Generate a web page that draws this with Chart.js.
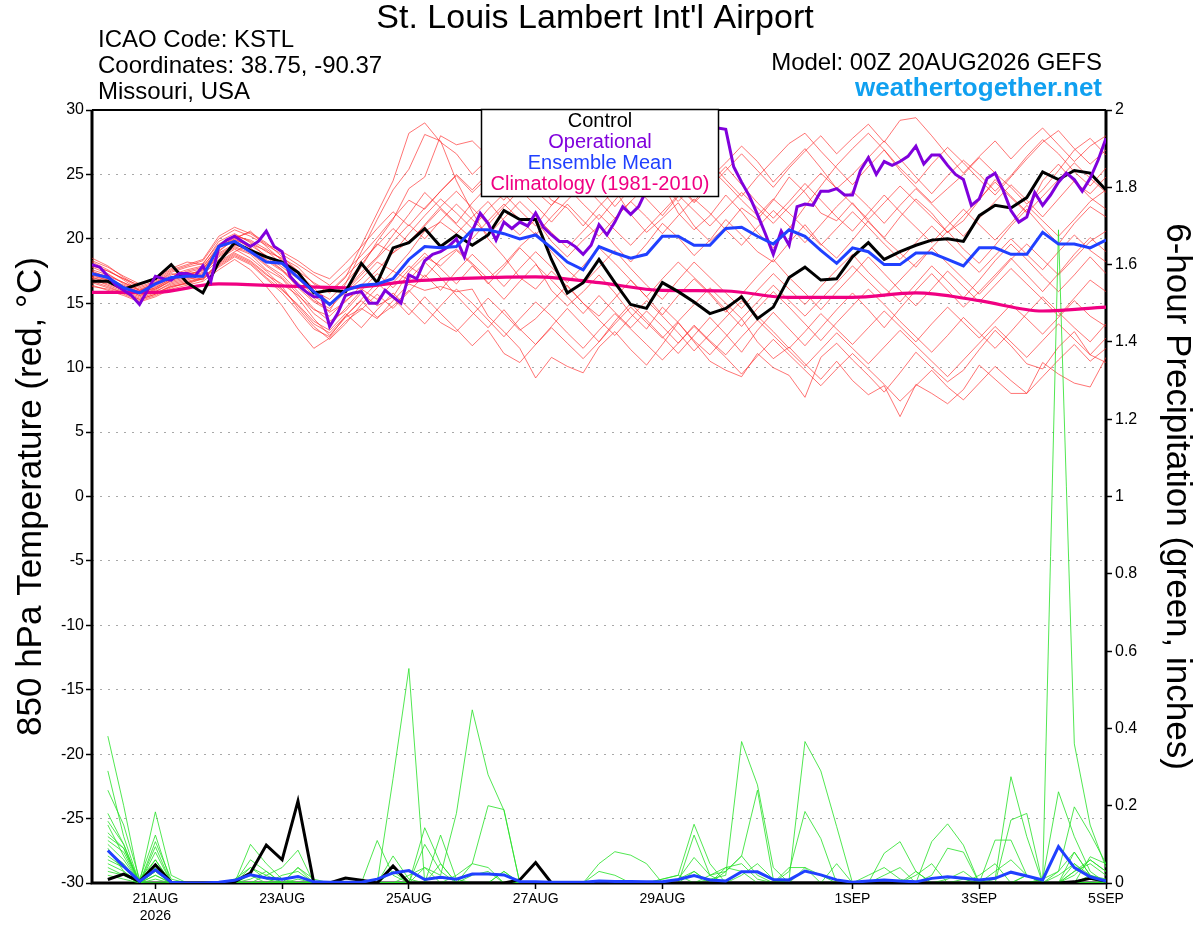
<!DOCTYPE html>
<html>
<head>
<meta charset="utf-8">
<script src="https://cdn.jsdelivr.net/npm/chart.js@4.4.1/dist/chart.umd.min.js"></script>
<style>
  html, body { margin: 0; padding: 0; background: #fff; }
  canvas { display: block; }
</style>
</head>
<body>
<canvas id="plume" width="1200" height="927"></canvas>
<script>
const FONT = '"Liberation Sans", Arial, Helvetica, sans-serif';

// x axis: hours after 00Z 20AUG2026
const tickHours = [24, 72, 120, 168, 216, 288, 336, 384];
const tickLabels = [['21AUG', '2026'], '23AUG', '25AUG', '27AUG', '29AUG', '1SEP', '3SEP', '5SEP'];

// 850 hPa temperature, 6-hourly from hour 0
const controlTemp = [
  16.7, 16.7, 16.1, 16.5, 16.9, 18.0, 16.6, 15.8, 18.2, 19.7, 19.1, 18.6, 18.2, 17.4, 15.8, 16.0,
  15.9, 18.1, 16.6, 19.3, 19.7, 20.8, 19.4, 20.3, 19.5, 20.3, 22.2, 21.5, 21.5, 18.4, 15.8, 16.6,
  18.4, 16.6, 14.9, 14.6, 16.6, 15.9, 15.1, 14.2, 14.6, 15.5, 13.8, 14.7, 17.0, 17.8, 16.8, 16.9,
  18.6, 19.7, 18.4, 19.0, 19.5, 19.9, 20.0, 19.8, 21.8, 22.6, 22.4, 23.2, 25.2, 24.6, 25.3, 25.1,
  23.8
];
const meanTemp = [
  17.3, 17.0, 16.2, 15.8, 16.5, 17.0, 17.1, 17.1, 19.4, 19.8, 19.0, 18.2, 18.1, 17.0, 15.9, 14.9,
  16.0, 16.4, 16.5, 16.9, 18.4, 19.4, 19.3, 19.4, 20.7, 20.7, 20.4, 20.0, 20.3, 19.3, 18.2, 17.6,
  19.4, 18.9, 18.5, 18.8, 20.2, 20.2, 19.5, 19.5, 20.8, 20.9, 20.2, 19.6, 20.7, 20.2, 19.1, 18.1,
  19.3, 19.0, 18.0, 18.0, 18.9, 18.9, 18.4, 17.9, 19.3, 19.3, 18.8, 18.8, 20.5, 19.6, 19.6, 19.3,
  19.9
];
// operational run, 3-hourly from hour 0
const operTemp = [
  18.0, 17.8, 17.1, 16.4, 16.0, 15.6, 14.9, 16.0, 17.1, 16.9, 16.8, 17.3, 17.3, 17.1, 17.9, 16.7,
  19.4, 19.9, 20.2, 19.8, 19.4, 19.8, 20.6, 19.4, 19.0, 17.1, 16.4, 15.9, 15.5, 15.5, 13.2, 14.2,
  15.6, 15.8, 15.9, 15.0, 15.0, 16.0, 15.5, 15.0, 17.2, 16.9, 18.3, 18.8, 19.0, 19.4, 20.0, 18.6,
  20.6, 22.0, 21.2, 19.9, 21.3, 20.8, 21.3, 21.0, 22.0, 20.9, 20.3, 19.8, 19.8, 19.4, 18.8, 19.5,
  21.1, 20.3, 21.3, 22.5, 21.9, 22.5, 23.8, 24.6, 25.3, 25.9, 26.6, 27.2, 27.6, 28.0, 28.4, 28.6,
  28.5, 25.6, 24.4, 23.3, 21.9, 20.4, 18.8, 20.6, 19.5, 22.5, 22.7, 22.6, 23.7, 23.7, 23.9, 23.4,
  23.4, 25.3, 26.3, 25.0, 26.0, 25.7, 26.0, 26.4, 27.2, 25.8, 26.5, 26.5, 25.7, 25.0, 24.6, 22.6,
  23.1, 24.7, 25.1, 23.8, 22.2, 21.3, 21.7, 23.6, 22.6, 23.4, 24.4, 25.1, 24.6, 23.7, 24.7, 26.1,
  27.8
];
// climatology (1981-2010), daily from hour 0
const climTemp = [15.85, 15.85, 16.5, 16.35, 16.2, 16.7, 16.95, 17.05, 16.6, 16.0, 15.95, 15.45, 15.45, 15.8, 15.2, 14.4, 14.7];

// ensemble members, 6-hourly from hour 0
const memberTemps = [
  [18.2,17.6,16.8,16.0,16.4,17.0,17.5,17.8, 19.5,20.3,19.8,19.0,18.5,17.8,16.5,15.8, 17.0,19.5,22.0,24.5,28.2,29.0,27.5,26.6,
   25.0,26.2,27.8,26.0,24.5,23.0,22.4,21.0, 22.5,23.8,21.9,20.5,21.6,22.8,21.0,19.8, 20.9,22.4,21.5,23.0,24.8,23.6,22.0,21.4,
   22.8,21.3,20.1,21.7,23.1,22.0,20.5,21.4, 23.0,24.6,23.3,22.1,24.5,25.8,24.4,23.5, 24.8],
  [17.5,17.0,16.3,15.7,16.0,16.8,17.1,17.6, 19.0,20.0,20.6,19.4,18.3,17.0,15.5,14.9, 16.0,17.8,19.8,21.5,23.9,24.8,28.0,27.3,
   27.6,26.4,25.0,23.5,24.9,26.5,27.6,25.9, 24.0,22.5,23.9,25.8,24.3,22.0,20.7,21.8, 23.4,22.1,20.5,19.3,20.8,22.5,24.1,25.7,
   27.0,28.2,26.9,25.3,24.0,22.8,23.9,25.0, 26.3,25.1,24.0,22.7,23.8,25.3,26.9,27.8, 26.5],
  [16.8,16.5,16.0,15.5,15.9,16.6,16.9,17.3, 18.6,19.3,18.8,17.6,16.9,15.4,13.8,12.5, 13.9,14.6,13.8,15.2,16.5,16.0,16.3,15.9,
   16.1,14.0,12.8,11.5,9.2,10.8,10.1,9.6, 11.6,12.8,11.4,10.2,11.8,13.5,12.0,10.5, 9.8,9.3,11.1,10.0,9.4,7.7,10.8,11.9,
   10.6,9.4,8.1,9.6,11.2,10.0,8.9,9.8, 11.4,12.9,11.7,10.3,9.9,11.6,12.8,11.0, 10.4],
  [17.2,16.8,16.2,15.8,16.2,16.9,17.4,17.1, 18.9,19.6,19.0,18.0,17.2,15.9,14.6,13.6, 14.4,15.8,14.8,15.5,17.4,18.6,17.9,19.1,
   18.0,16.5,17.8,19.3,18.1,16.0,14.8,15.9, 17.2,15.8,14.2,13.0,14.7,13.5,12.1,11.0, 12.4,13.8,12.0,10.7,11.6,10.3,9.1,10.5,
   9.0,7.9,8.6,6.2,8.7,8.0,7.2,8.3, 10.2,9.1,8.0,8.0,10.4,9.5,8.8,8.5, 10.8],
  [17.8,17.3,16.5,16.0,16.6,17.3,17.0,16.8, 18.2,19.0,19.6,19.1,18.0,17.3,16.2,15.0, 15.8,16.9,18.2,17.5,18.9,20.6,21.3,20.4,
   21.7,22.9,21.4,20.3,21.5,19.8,18.6,19.9, 21.0,19.5,18.2,19.6,21.2,20.1,18.7,19.9, 21.5,20.3,19.0,18.2,19.7,21.1,19.6,18.5,
   19.9,21.4,20.0,18.9,17.8,19.3,20.6,19.2, 18.1,19.5,21.0,22.3,20.9,19.6,21.2,22.5, 21.7],
  [18.5,17.9,17.0,16.3,16.7,17.5,17.9,18.3, 20.0,20.7,20.2,19.5,18.8,18.0,17.2,16.4, 17.5,18.7,20.1,21.6,23.0,22.3,23.7,24.9,
   23.6,24.8,26.1,25.0,23.7,22.6,23.9,25.2, 26.5,25.3,24.0,25.4,26.8,27.5,26.1,24.7, 25.9,27.2,26.0,24.4,25.7,27.0,25.5,23.9,
   25.0,26.3,27.6,26.2,24.8,23.5,24.9,26.1, 25.0,23.7,24.9,26.4,27.7,26.6,25.2,24.1, 25.5],
  [16.6,16.2,15.8,15.3,15.7,16.4,16.7,17.0, 18.0,18.8,18.2,17.2,16.5,15.6,14.5,14.0, 15.2,16.1,15.3,16.6,17.9,17.0,18.4,19.2,
   18.1,16.9,18.0,19.4,20.5,19.0,17.6,16.5, 17.8,19.1,17.7,16.4,15.3,16.8,18.2,17.0, 15.8,14.6,16.0,17.3,16.1,14.9,16.3,17.6,
   18.8,17.4,16.2,15.1,16.5,17.9,16.7,15.4, 16.8,18.3,19.6,18.4,17.1,15.9,17.2,18.6, 17.3],
  [17.0,16.7,16.1,15.6,15.9,16.5,16.8,17.2, 18.4,19.2,18.5,17.5,16.3,14.6,13.2,12.2, 13.4,14.9,16.2,17.5,16.8,18.2,17.0,15.6,
   14.3,13.1,14.5,13.0,11.8,13.2,14.6,13.3, 12.0,13.6,15.0,13.7,12.4,11.1,12.5,13.9, 12.6,11.2,12.9,14.3,13.0,11.7,13.1,14.5,
   15.8,14.5,13.1,14.6,16.0,17.3,16.0,14.7, 15.9,17.2,18.5,17.2,15.9,17.3,18.8,20.1, 19.0],
  [17.4,17.1,16.6,16.1,16.5,17.2,17.6,17.9, 19.3,20.1,20.5,19.7,18.6,17.5,16.0,15.3, 16.6,18.0,19.6,18.9,20.4,21.8,23.1,22.0,
   20.8,22.3,23.5,22.2,21.0,22.6,24.0,22.7, 21.5,23.0,24.4,23.1,21.8,23.3,24.7,26.0, 24.6,23.3,24.8,26.1,27.4,28.2,26.8,25.5,
   24.2,25.6,26.9,25.5,24.3,25.8,27.1,25.9, 24.6,23.4,24.8,26.2,27.5,28.4,27.0,25.8, 26.9],
  [18.0,17.5,16.9,16.4,16.9,17.7,18.2,18.0, 19.8,20.4,19.7,18.6,17.6,16.2,15.1,14.4, 16.5,19.0,21.5,23.8,25.4,28.1,27.6,24.5,
   22.1,20.0,18.6,17.0,16.1,17.5,16.3,15.0, 14.0,15.4,16.8,15.5,14.1,15.6,16.9,15.7, 14.3,15.7,17.1,18.4,17.0,15.8,14.5,15.9,
   17.2,18.6,17.3,16.0,14.8,16.1,17.5,16.3, 15.1,16.4,17.7,16.5,15.3,14.0,15.4,16.8, 15.9],
  [16.9,16.4,15.9,15.4,15.8,16.3,16.5,16.9, 17.8,18.6,18.0,16.9,15.8,14.4,13.0,12.4, 14.0,15.2,13.9,14.8,16.0,14.7,13.5,12.8,
   14.1,15.4,14.2,12.9,13.8,15.1,16.4,15.0, 13.7,12.5,13.9,15.2,14.0,12.7,11.3,12.6, 13.9,15.2,14.0,12.8,11.5,12.8,14.2,13.0,
   11.8,13.1,14.4,13.2,12.0,13.4,14.7,13.5, 12.3,13.6,14.9,13.8,12.6,13.9,15.2,14.0, 13.2],
  [17.6,17.2,16.6,16.0,16.3,17.0,17.4,17.7, 19.1,19.9,19.5,18.7,17.8,16.9,15.8,14.8, 16.0,17.4,18.6,20.3,21.9,23.6,22.4,21.2,
   22.8,24.1,23.0,24.6,25.9,24.5,26.1,27.4, 26.2,27.6,28.5,27.3,25.6,24.2,22.9,24.3, 25.6,24.2,22.8,21.6,22.9,24.3,23.0,21.7,
   20.6,22.0,23.4,22.1,20.9,19.7,21.0,22.3, 21.1,19.9,21.2,22.6,21.4,20.2,21.5,22.9, 23.8],
  [16.4,16.0,15.6,15.1,15.5,16.1,16.4,16.7, 17.6,18.4,17.6,16.3,14.8,13.0,11.5,12.3, 13.6,14.5,15.7,14.6,15.9,17.2,16.0,17.5,
   18.8,17.6,16.3,17.7,19.0,17.8,16.6,17.9, 19.3,18.1,16.8,15.5,16.9,18.2,17.0,15.8, 14.5,13.2,14.6,15.9,14.7,13.4,12.1,13.5,
   14.8,16.1,14.9,13.6,12.4,11.2,12.5,13.9, 12.7,11.5,12.8,14.2,15.5,14.3,13.1,12.0, 13.4],
  [17.1,16.8,16.3,15.9,16.2,16.9,17.3,17.5, 18.8,19.5,19.2,18.4,17.6,16.6,15.4,14.3, 15.1,16.4,17.6,18.9,19.8,21.0,22.3,21.1,
   20.0,21.4,22.7,21.5,20.3,21.7,23.0,24.2, 22.9,21.6,22.9,24.1,25.4,24.1,22.8,24.0, 25.3,26.6,25.3,24.0,25.5,26.8,28.0,26.6,
   27.8,28.9,27.5,29.2,29.4,28.0,26.5,25.1, 26.4,27.6,26.2,27.5,28.6,27.3,26.0,27.2, 28.0],
  [16.3,16.1,15.7,15.2,15.6,16.2,16.6,16.9, 17.9,18.7,18.1,17.0,16.0,14.9,13.6,12.9, 14.2,13.1,14.5,15.8,14.6,13.4,14.8,16.1,
   15.0,13.7,12.4,13.8,15.1,14.0,12.7,11.5, 12.9,14.2,13.0,11.8,10.6,11.9,13.2,12.0, 10.8,9.5,10.9,12.2,11.0,9.8,8.6,9.9,
   11.1,9.9,8.7,7.4,8.6,9.8,8.5,7.5, 8.8,10.1,9.0,8.0,9.3,10.6,11.8,10.5, 11.5],
  [17.9,17.5,16.9,16.2,16.6,17.4,17.8,18.1, 19.6,20.2,19.9,19.2,18.4,17.5,16.6,15.9, 17.1,18.3,19.5,20.8,19.7,21.1,22.5,23.7,
   22.4,21.1,22.5,23.8,22.6,21.3,22.7,21.4, 20.2,21.6,22.9,21.7,20.4,21.8,23.1,22.0, 20.7,19.5,20.9,22.2,21.0,19.7,21.1,22.5,
   23.7,22.5,21.2,22.6,23.9,22.7,21.4,20.2, 21.6,22.9,24.2,23.0,21.7,23.1,24.5,23.2, 22.3],
  [16.7,16.3,15.8,15.3,15.7,16.3,16.6,17.0, 18.1,18.9,18.3,17.3,16.1,14.8,13.4,12.7, 14.0,15.3,16.6,15.4,14.1,15.5,14.2,13.0,
   11.7,12.9,11.1,10.4,11.8,13.1,11.9,10.7, 12.0,13.4,14.7,13.5,12.3,13.6,14.9,16.2, 15.0,13.8,15.1,16.4,15.2,14.0,15.3,16.6,
   17.9,16.7,15.5,16.8,18.1,19.3,18.1,16.9, 15.7,17.0,18.4,19.6,18.4,17.2,18.5,19.8, 20.6],
  [18.3,17.8,17.1,16.5,16.8,17.6,18.0,18.4, 20.2,20.9,20.4,19.6,19.0,18.3,17.4,16.9, 18.1,19.4,20.8,22.1,21.0,22.4,23.7,25.0,
   23.8,25.1,26.3,25.0,26.4,27.7,26.5,25.2, 24.0,25.3,26.6,25.4,24.1,22.9,24.2,25.5, 24.3,23.0,21.8,23.1,22.0,20.8,19.5,20.8,
   22.1,20.9,19.6,18.4,19.7,21.0,19.8,18.6, 17.4,18.7,20.0,18.8,17.6,19.0,20.3,19.1, 18.2],
  [17.3,16.9,16.4,15.9,16.1,16.7,17.0,17.4, 18.7,19.4,18.9,17.9,17.0,15.7,14.2,13.3, 14.6,16.0,17.3,16.2,17.6,18.9,17.7,16.5,
   17.9,16.6,15.3,16.7,18.0,16.8,15.5,14.2, 15.6,14.3,13.1,14.4,13.2,11.9,13.3,12.1, 11.0,12.4,13.7,12.5,11.3,10.1,11.4,12.7,
   11.5,10.3,11.6,12.9,11.7,10.5,9.3,10.6, 11.9,13.2,12.0,10.8,12.1,13.4,12.2,11.0, 12.3],
  [17.0,16.6,16.2,15.6,16.1,16.8,17.2,17.6, 19.4,20.0,19.3,18.3,17.5,16.4,15.2,14.6, 15.9,17.2,18.5,19.8,21.1,20.0,21.4,22.7,
   21.5,20.3,21.6,22.9,21.7,20.5,19.3,20.6, 21.9,20.7,19.5,20.8,22.1,23.4,22.2,21.0, 22.3,23.6,22.4,21.2,22.5,23.8,25.1,23.9,
   22.7,21.5,22.8,24.1,22.9,21.7,20.5,21.8, 23.1,24.4,23.2,22.0,23.3,24.6,25.9,24.7, 23.6]
];

// 6-hour precipitation (inches), 6-hourly from hour 6
const controlPrecip = [
  0.009, 0.023, 0.004, 0.047, 0.002, 0, 0, 0, 0.003, 0.026, 0.098, 0.06, 0.212, 0, 0, 0.013,
  0.007, 0, 0.044, 0, 0, 0, 0, 0, 0, 0, 0.008, 0.053, 0, 0, 0, 0,
  0, 0, 0, 0, 0, 0, 0, 0, 0, 0, 0, 0, 0, 0, 0, 0,
  0, 0, 0, 0, 0, 0, 0, 0, 0, 0, 0, 0, 0, 0.003, 0.012, 0.005
];
const meanPrecip = [
  0.084, 0.043, 0.004, 0.034, 0.002, 0, 0, 0.002, 0.007, 0.021, 0.013, 0.01, 0.017, 0.003, 0.002, 0.002,
  0.002, 0.01, 0.026, 0.032, 0.009, 0.015, 0.01, 0.023, 0.023, 0.021, 0.004, 0.003, 0.002, 0.002, 0.002, 0.005,
  0.004, 0.004, 0.003, 0.003, 0.009, 0.019, 0.008, 0.005, 0.029, 0.029, 0.009, 0.008, 0.031, 0.021, 0.008, 0.002,
  0.005, 0.008, 0.005, 0.003, 0.012, 0.016, 0.012, 0.008, 0.012, 0.028, 0.018, 0.008, 0.094, 0.04, 0.016, 0.005
];
const memberPrecips = [
  [0.38,0.20,0,0.05,0,0,0,0, 0,0.02,0,0,0.01,0,0,0, 0,0,0.27,0.555,0,0,0,0, 0,0,0,0,0,0,0,0,
   0,0,0,0,0,0,0.01,0.02, 0.366,0.254,0.04,0,0,0,0,0, 0,0,0,0,0,0.01,0.03,0, 0,0,0,0,0.02,0.05,0.01,0],
  [0.29,0.12,0,0.184,0.02,0,0,0, 0,0,0,0,0,0,0,0, 0,0,0,0,0.04,0.02,0.18,0.448, 0.28,0.188,0,0,0,0,0,0,
   0,0,0,0,0.01,0.03,0,0, 0,0,0,0,0,0,0,0, 0,0,0,0.02,0.05,0,0,0, 0.03,0.06,0.02,0,0,0.02,0.06,0.03],
  [0.24,0.15,0.01,0.124,0,0,0,0, 0,0.01,0.03,0,0,0,0,0, 0,0,0,0,0,0,0,0, 0,0,0,0,0,0,0,0,
   0,0,0,0,0,0,0,0, 0,0,0,0.01,0.366,0.29,0.146,0, 0,0,0,0,0,0,0,0, 0.01,0.275,0.12,0,0,0,0.02,0.01],
  [0.18,0.10,0,0.107,0.01,0,0,0, 0,0,0,0,0,0,0,0, 0,0,0,0,0,0,0,0, 0,0,0,0,0,0,0,0,
   0,0,0,0,0,0,0,0, 0,0,0,0,0,0,0,0, 0,0,0,0,0,0,0.01,0, 0,0,0.02,0,1.69,0.36,0.15,0.04],
  [0.15,0.07,0,0.05,0,0,0,0, 0,0.10,0.05,0.01,0,0,0,0, 0,0,0,0,0,0,0.02,0.05, 0.20,0.19,0,0,0,0,0,0,
   0,0,0,0,0,0,0.02,0.03, 0.07,0.24,0.01,0,0,0,0,0, 0,0,0,0,0,0,0,0, 0,0,0,0,0,0,0,0],
  [0.12,0.09,0,0.03,0,0,0,0, 0,0,0.02,0.04,0.085,0,0,0, 0,0,0.03,0,0.143,0.05,0,0, 0,0,0,0,0,0,0,0,
   0,0,0,0.01,0.02,0.152,0.05,0, 0,0,0,0,0,0,0,0, 0,0,0,0,0.107,0.153,0.098,0, 0,0,0,0,0,0,0,0],
  [0.10,0.06,0,0.02,0,0,0,0, 0,0,0,0,0,0,0,0, 0,0.11,0.02,0,0,0.124,0.01,0, 0,0,0,0,0,0,0,0.05,
   0.081,0.072,0.05,0,0,0,0,0, 0,0,0,0,0,0,0,0, 0,0.02,0.04,0,0,0,0,0, 0,0,0,0,0,0,0,0],
  [0.08,0.05,0,0.094,0,0,0,0, 0,0.06,0.03,0,0,0,0,0, 0,0,0.07,0.01,0,0,0,0, 0,0.03,0,0,0,0,0,0,
   0,0,0,0,0,0,0,0, 0,0,0,0.03,0.185,0.115,0,0, 0,0,0,0,0,0,0,0, 0,0,0,0.01,0.236,0.12,0.03,0],
  [0.06,0.04,0,0,0,0,0,0, 0,0,0,0,0.04,0,0,0, 0,0,0,0,0,0,0,0, 0,0,0,0,0,0,0,0,
   0,0,0,0,0,0.124,0.02,0, 0,0,0,0,0,0,0,0, 0,0.077,0.107,0.03,0,0,0,0, 0,0.163,0.18,0,0,0,0,0],
  [0.05,0.03,0,0.02,0,0,0,0, 0,0,0,0,0,0,0,0, 0,0,0,0,0,0,0,0, 0,0,0,0,0,0,0,0,
   0,0,0,0,0.01,0.066,0.02,0.04, 0.03,0,0,0,0,0,0,0, 0,0,0,0,0,0,0,0, 0.111,0.111,0.02,0,0.03,0.197,0.128,0.05],
  [0.04,0.02,0,0,0,0,0,0, 0,0.04,0.02,0,0,0,0,0, 0,0,0,0,0.10,0.03,0,0, 0,0,0,0,0,0,0,0,
   0,0,0,0,0,0,0,0, 0,0,0,0,0.04,0.02,0,0, 0,0,0,0,0.02,0.09,0.08,0, 0,0,0,0,0,0,0.068,0.05],
  [0.03,0.02,0,0.01,0,0,0,0, 0,0,0,0,0.04,0.01,0,0, 0,0,0,0,0,0,0,0.02, 0.03,0,0,0,0,0,0,0,
   0,0,0,0,0,0,0,0.03, 0.07,0.02,0,0,0,0,0,0, 0,0,0,0,0,0,0,0, 0,0,0,0,0,0.03,0.06,0.03],
  [0.02,0.01,0,0.03,0,0,0,0, 0,0,0,0,0,0,0,0, 0,0,0,0,0,0.05,0,0, 0,0.03,0,0,0,0,0,0,
   0,0,0,0,0.01,0.02,0.01,0, 0,0,0,0,0,0,0,0, 0.02,0.04,0.01,0,0,0,0,0, 0,0,0.02,0,0,0.05,0.02,0],
  [0.07,0.04,0.01,0.06,0,0,0,0, 0.01,0.04,0.01,0,0,0,0,0, 0,0,0,0,0,0,0,0, 0,0,0,0,0,0,0,0,
   0,0,0,0,0,0,0,0.04, 0.05,0.01,0,0.04,0.04,0,0,0, 0,0,0,0,0,0,0,0, 0,0,0,0,0,0.08,0.02,0],
  [0.11,0.08,0,0.04,0,0,0,0, 0,0,0,0,0,0,0,0, 0,0,0,0,0,0,0,0.05, 0.04,0,0,0,0,0,0,0,
   0,0,0,0,0,0,0,0, 0,0,0,0,0,0,0,0, 0,0,0,0,0,0,0,0.02, 0.05,0,0,0.01,0.03,0.08,0.02,0],
  [0.09,0.03,0,0,0,0,0,0, 0,0,0,0,0,0,0,0, 0,0,0,0,0,0,0,0, 0,0,0,0,0,0,0,0,
   0,0,0,0.01,0.02,0,0,0, 0,0,0,0,0,0,0.05,0, 0,0,0,0.03,0,0,0,0, 0,0,0,0,0,0,0,0],
  [0.13,0.09,0,0.06,0,0,0,0, 0,0,0,0.02,0.03,0,0,0, 0,0,0,0,0,0,0,0, 0,0,0,0,0,0,0,0.03,
   0.02,0,0,0,0,0.03,0,0, 0,0,0,0,0,0,0,0, 0,0,0,0,0,0,0,0, 0,0,0,0,0,0,0,0],
  [0.16,0.10,0,0.08,0,0,0,0, 0,0,0,0,0,0,0,0, 0,0,0,0.02,0.04,0,0,0, 0,0,0,0,0,0,0,0,
   0,0,0,0,0,0,0,0, 0.02,0.05,0.01,0,0,0,0,0, 0,0,0,0,0,0,0,0, 0,0,0,0,0,0.03,0.05,0.02]
];

const RED = 'rgba(255,40,40,0.72)';
const GREEN = 'rgba(40,225,40,0.9)';
const BLACK = '#000000';
const PURPLE = 'rgb(128,0,220)';
const BLUE = 'rgb(32,64,255)';
const MAGENTA = 'rgb(240,0,130)';

function series(values, stepHours, startHour) {
  return values.map((v, i) => ({ x: startHour + i * stepHours, y: v }));
}

function lineSet(data, color, width, axis, order) {
  return {
    data: data,
    borderColor: color,
    borderWidth: width,
    pointRadius: 0,
    fill: false,
    yAxisID: axis,
    order: order,
  };
}

const datasets = [];
memberTemps.forEach((m) => datasets.push(lineSet(series(m, 6, 0), RED, 0.9, 'y', 90)));
memberPrecips.forEach((m) => datasets.push(lineSet(series(m, 6, 6), GREEN, 0.9, 'y2', 80)));
const clim = lineSet(series(climTemp, 24, 0), MAGENTA, 3.2, 'y', 50);
clim.cubicInterpolationMode = 'monotone';
datasets.push(clim);
datasets.push(lineSet(series(controlTemp, 6, 0), BLACK, 3, 'y', 40));
datasets.push(lineSet(series(controlPrecip, 6, 6), BLACK, 3, 'y2', 39));
datasets.push(lineSet(series(operTemp, 3, 0), PURPLE, 3, 'y', 30));
datasets.push(lineSet(series(meanTemp, 6, 0), BLUE, 3, 'y', 20));
datasets.push(lineSet(series(meanPrecip, 6, 6), BLUE, 3, 'y2', 19));

// axis box drawn under the lines
const framePlugin = {
  id: 'frame',
  beforeDatasetsDraw(chart) {
    const { ctx, chartArea: a } = chart;
    ctx.save();
    ctx.strokeStyle = '#000';
    ctx.lineWidth = 3;
    ctx.beginPath();
    ctx.moveTo(a.left, a.top);
    ctx.lineTo(a.left, a.bottom);
    ctx.lineTo(a.right, a.bottom);
    ctx.lineTo(a.right, a.top);
    ctx.stroke();
    ctx.lineWidth = 2;
    ctx.beginPath();
    ctx.moveTo(a.left, a.top);
    ctx.lineTo(a.right, a.top);
    ctx.stroke();
    ctx.restore();
  },
};

// titles, header texts, axis titles and the key box on top
const textPlugin = {
  id: 'texts',
  afterDatasetsDraw(chart) {
    const ctx = chart.ctx;
    const a = chart.chartArea;
    ctx.save();
    ctx.fillStyle = '#000';
    ctx.textBaseline = 'middle';

    ctx.textAlign = 'center';
    ctx.font = '34px ' + FONT;
    ctx.fillText("St. Louis Lambert Int'l Airport", 595, 19);

    ctx.textAlign = 'left';
    ctx.font = '24px ' + FONT;
    ctx.fillText('ICAO Code: KSTL', 98, 40);
    ctx.fillText('Coordinates: 38.75, -90.37', 98, 66);
    ctx.fillText('Missouri, USA', 98, 92);

    ctx.textAlign = 'right';
    ctx.fillText('Model: 00Z 20AUG2026 GEFS', 1102, 63);
    ctx.font = 'bold 26px ' + FONT;
    ctx.fillStyle = 'rgb(16,160,240)';
    ctx.fillText('weathertogether.net', 1102, 89);

    ctx.fillStyle = '#000';
    ctx.textAlign = 'center';
    ctx.font = '35px ' + FONT;
    const midY = (a.top + a.bottom) / 2;
    ctx.save();
    ctx.translate(31, midY);
    ctx.rotate(-Math.PI / 2);
    ctx.fillText('850 hPa Temperature (red, °C)', 0, 0);
    ctx.restore();
    ctx.save();
    ctx.translate(1177, midY);
    ctx.rotate(Math.PI / 2);
    ctx.fillText('6-hour Precipitation (green, inches)', 0, 0);
    ctx.restore();

    // key box
    ctx.fillStyle = '#fff';
    ctx.fillRect(481, 109, 238, 88);
    ctx.strokeStyle = '#000';
    ctx.lineWidth = 1.5;
    ctx.strokeRect(481.5, 109.5, 237, 87);
    ctx.font = '20px ' + FONT;
    const keys = [
      ['Control', BLACK],
      ['Operational', PURPLE],
      ['Ensemble Mean', BLUE],
      ['Climatology (1981-2010)', MAGENTA],
    ];
    keys.forEach((k, i) => {
      ctx.fillStyle = k[1];
      ctx.fillText(k[0], 600, 121 + i * 21.3);
    });
    ctx.restore();
  },
};

new Chart(document.getElementById('plume'), {
  type: 'line',
  data: { datasets: datasets },
  options: {
    responsive: false,
    devicePixelRatio: 1,
    animation: false,
    layout: { padding: { top: 110, left: 0, right: 0, bottom: 0 } },
    plugins: {
      legend: { display: false },
      tooltip: { enabled: false },
      title: { display: false },
    },
    scales: {
      x: {
        type: 'linear',
        min: 0,
        max: 384,
        afterBuildTicks: (scale) => {
          scale.ticks = tickHours.map((h) => ({ value: h }));
        },
        afterFit: (scale) => {
          scale.height = 44;
        },
        ticks: {
          autoSkip: false,
          maxRotation: 0,
          padding: 1,
          color: '#000',
          font: { family: FONT, size: 14, lineHeight: 1.25 },
          callback: (value, index) => tickLabels[index],
        },
        grid: { drawOnChartArea: false, drawTicks: true, tickLength: 6, tickColor: '#000', tickWidth: 1.5 },
        border: { display: false },
      },
      y: {
        position: 'left',
        min: -30,
        max: 30,
        afterFit: (scale) => {
          scale.width = 92;
        },
        ticks: {
          stepSize: 5,
          padding: 2,
          color: '#000',
          font: { family: FONT, size: 16 },
        },
        grid: { color: '#a8a8a8', lineWidth: 1, tickLength: 6, tickColor: '#000', tickWidth: 1.5 },
        border: { display: false, dash: [2, 6] },
      },
      y2: {
        position: 'right',
        min: 0,
        max: 2,
        afterFit: (scale) => {
          scale.width = 94;
        },
        ticks: {
          stepSize: 0.2,
          padding: 3,
          color: '#000',
          font: { family: FONT, size: 16 },
          callback: (value) => String(Number(value.toFixed(1))),
        },
        grid: { drawOnChartArea: false, tickLength: 6, tickColor: '#000', tickWidth: 1.5 },
        border: { display: false },
      },
    },
  },
  plugins: [framePlugin, textPlugin],
});
</script>
</body>
</html>
